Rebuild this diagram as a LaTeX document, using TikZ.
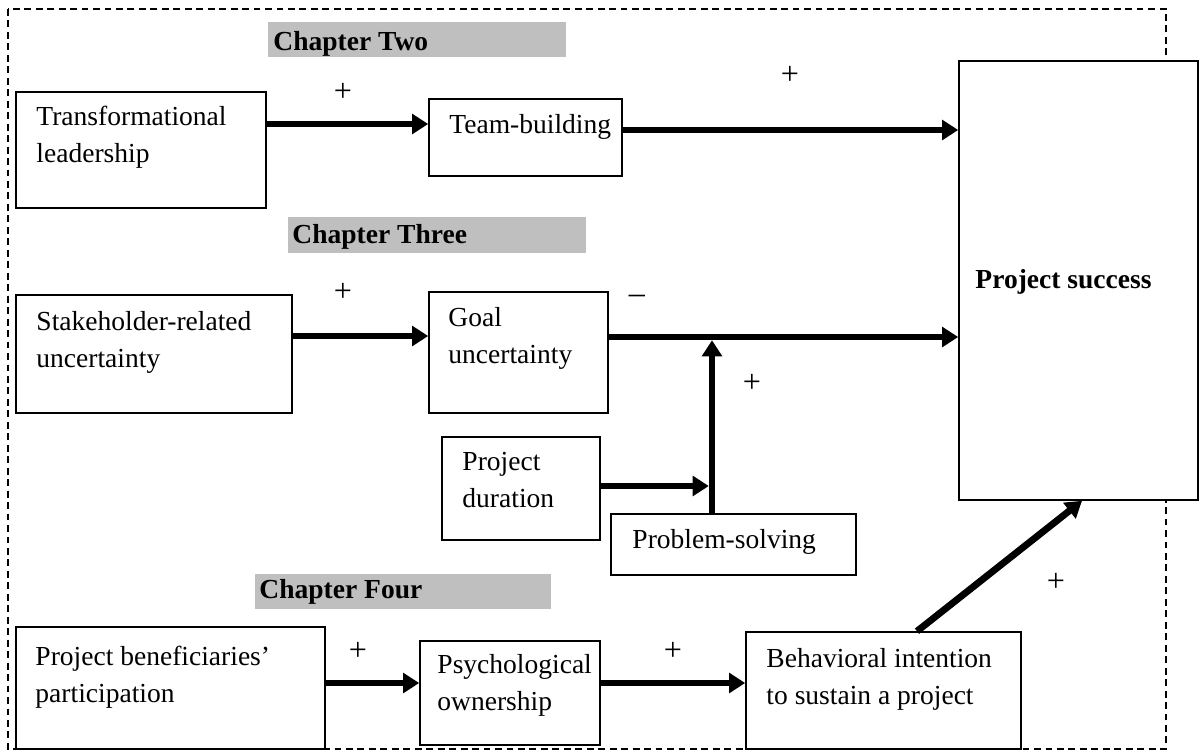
\documentclass[tikz,border=0pt]{standalone}
\usepackage{fontspec}
\setmainfont{Liberation Serif}
\usetikzlibrary{arrows.meta,fit}
\definecolor{chapgray}{RGB}{191,191,191}
\begin{document}
\begin{tikzpicture}[x=0.436pt,y=-0.436pt,
  box/.style={draw, line width=0.7pt, fill=white, inner sep=0pt},
  txt/.style={anchor=base west, align=left, inner sep=0pt, font=\fontsize{12}{16}\selectfont},
  chapbar/.style={fill=chapgray, inner sep=0pt},
  chaptxt/.style={anchor=base west, inner sep=0pt, font=\fontsize{12}{16}\selectfont\bfseries},
  sign/.style={inner sep=0pt, font=\fontsize{14}{14}\selectfont},
  link/.style={line width=3pt, -{Triangle[length=7pt,width=8.5pt]}},
  frame/.style={densely dashed, line width=0.9pt}]
\useasboundingbox (0,0) rectangle (1200,751);

% outer dashed frame
\draw[frame] (8,9) rectangle (1166,749);

% chapter headings
\node[chapbar, fit={(268,22) (566,57)}] (ch2) {};
\node[chaptxt] (ch2-t) at (273,50) {Chapter Two};
\node[chapbar, fit={(288,217) (586,253)}] (ch3) {};
\node[chaptxt] (ch3-t) at (292,243) {Chapter Three};
\node[chapbar, fit={(255,574) (551,609)}] (ch4) {};
\node[chaptxt] (ch4-t) at (259,598) {Chapter Four};

% outcome
\node[box, fit={(959,61) (1198,500)}] (success) {};
\node[chaptxt] (success-t) at (975,288) {Project success};

% chapter two (two-line labels are placed by the baseline of their last line)
\node[box, fit={(16,92) (266,208)}] (lead) {};
\node[txt] (lead-t) at (36,162) {Transformational\\leadership};
\node[box, fit={(429,99) (622,176)}] (team) {};
\node[txt] (team-t) at (449,133) {Team-building};

% chapter three
\node[box, fit={(16,295) (292,413)}] (stake) {};
\node[txt] (stake-t) at (36,367) {Stakeholder-related\\uncertainty};
\node[box, fit={(429,292) (608,413)}] (goal) {};
\node[txt] (goal-t) at (448,363) {Goal\\uncertainty};
\node[box, fit={(442,437) (600,540)}] (dur) {};
\node[txt] (dur-t) at (462,507) {Project\\duration};
\node[box, fit={(611,514) (856,575)}] (solve) {};
\node[txt] (solve-t) at (632,548) {Problem-solving};

% chapter four
\node[box, fit={(16,627) (325,749)}] (benef) {};
\node[txt] (benef-t) at (35,702) {Project beneficiaries'\\participation};
\node[box, fit={(420,641) (600,745)}] (psych) {};
\node[txt] (psych-t) at (437,710) {Psychological\\ownership};
\node[box, fit={(746,632) (1021,749)}] (behav) {};
\node[txt] (behav-t) at (766,704) {Behavioral intention\\to sustain a project};

% connector heights
\coordinate (r1a) at (0,124);
\coordinate (r1b) at (0,130);
\coordinate (r2a) at (0,336);
\coordinate (r2b) at (0,337);
\coordinate (r3) at (0,486);
\coordinate (r4) at (0,683);
\coordinate (jn) at (712,337);
\coordinate (d1) at (917,0);
\coordinate (d2) at (1082,0);

% connectors
\draw[link] (lead.east |- r1a) -- (team.west |- r1a);
\draw[link] (team.east |- r1b) -- (success.west |- r1b);
\draw[link] (stake.east |- r2a) -- (goal.west |- r2a);
\draw[link] (goal.east |- r2b) -- (success.west |- r2b);
\draw[link, shorten >=1.4pt] (solve.north -| jn) -- (jn);
\draw[link, shorten >=1.4pt] (dur.east |- r3) -- (jn |- r3);
\draw[link] (benef.east |- r4) -- (psych.west |- r4);
\draw[link] (psych.east |- r4) -- (behav.west |- r4);
\draw[link] (behav.north -| d1) -- (success.south -| d2);

% signs
\node[sign] (s1) at (343,92) {+};
\node[sign] (s2) at (790,75) {+};
\node[sign] (s3) at (343,292) {+};
\node[sign] (s4) at (637,299) {\textendash};
\node[sign] (s5) at (752,383) {+};
\node[sign] (s6) at (1056,582) {+};
\node[sign] (s7) at (358,651) {+};
\node[sign] (s8) at (673,651) {+};
\end{tikzpicture}
\end{document}
